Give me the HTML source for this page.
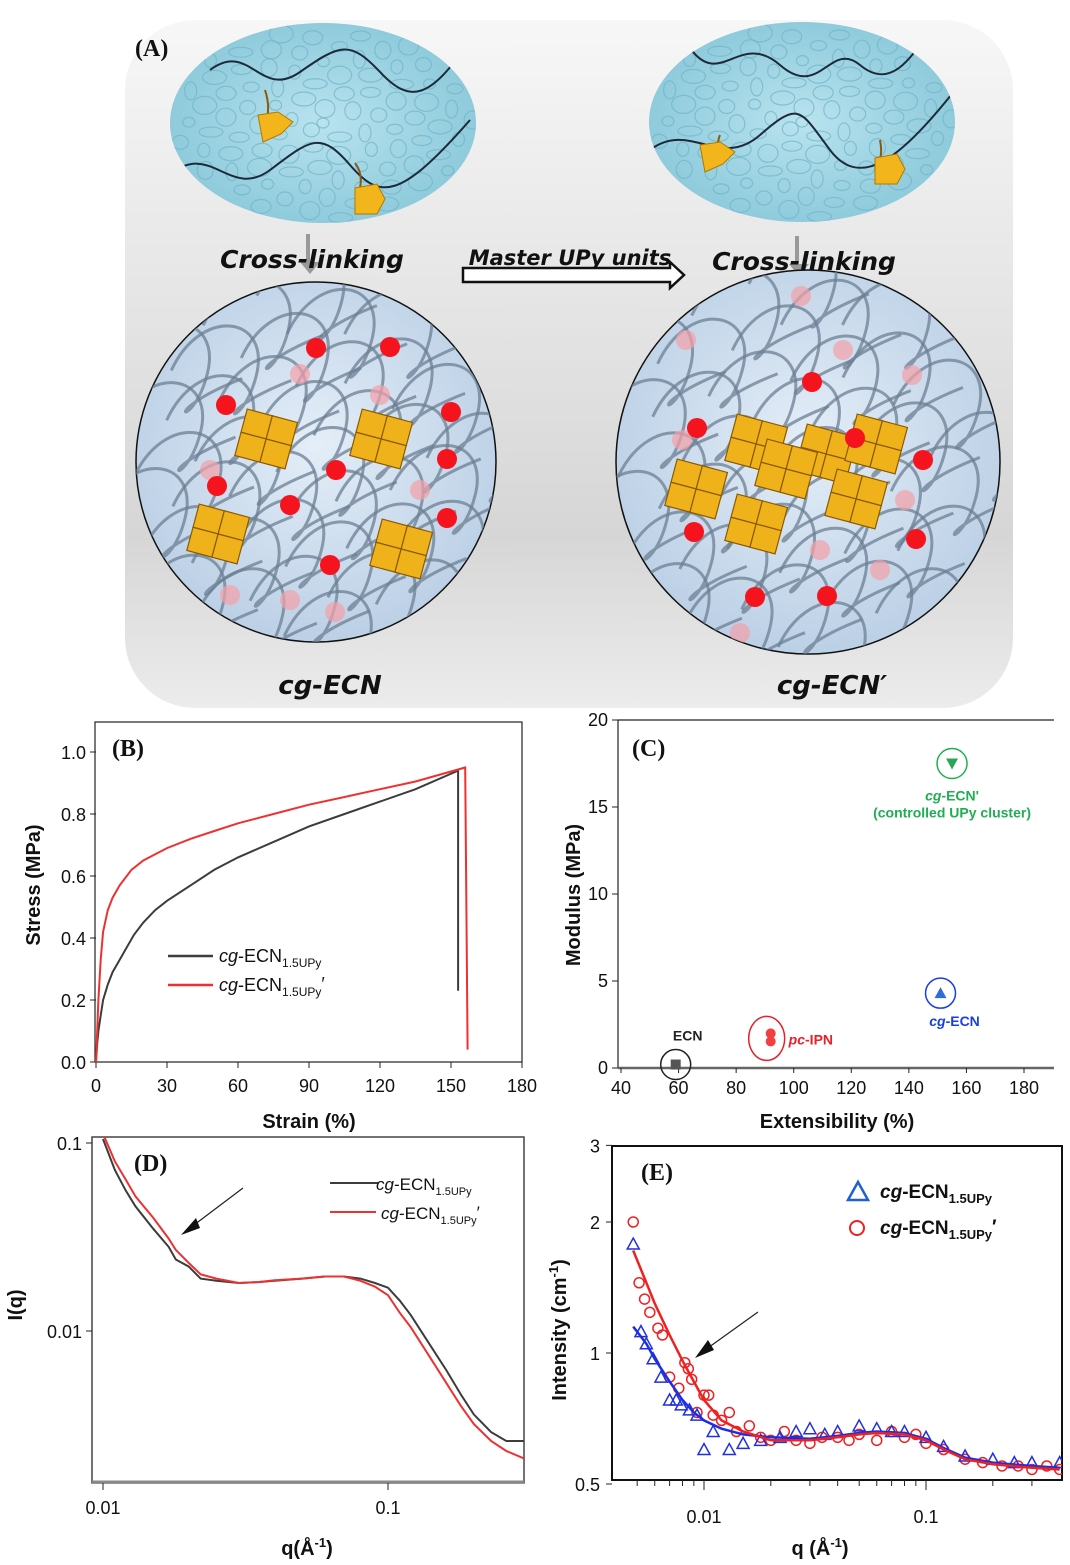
<!DOCTYPE html>
<html><head><meta charset="utf-8">
<style>
html,body{margin:0;padding:0;background:#fff;}
svg{display:block;font-family:"Liberation Sans",Arial,sans-serif;}
.tk{font-size:18px;fill:#111;}
.ttl{font-size:20px;font-weight:bold;fill:#111;}
.pl{font-family:"Liberation Serif",serif;font-weight:bold;font-size:24px;fill:#111;}
.cm{font-family:"DejaVu Sans","Liberation Sans",sans-serif;font-style:italic;font-weight:bold;fill:#111;}
</style></head>
<body>
<svg id="fig" width="1070" height="1565" viewBox="0 0 1070 1565" xmlns="http://www.w3.org/2000/svg">
<defs>
<linearGradient id="bgA" x1="0" y1="0" x2="0" y2="1">
<stop offset="0" stop-color="#f7f7f7"/><stop offset="0.75" stop-color="#d6d6d6"/><stop offset="1" stop-color="#ececec"/>
</linearGradient>
<radialGradient id="water" cx="0.5" cy="0.5" r="0.6">
<stop offset="0" stop-color="#b9e3ee"/><stop offset="1" stop-color="#86c6d8"/>
</radialGradient>
<radialGradient id="net" cx="0.5" cy="0.45" r="0.6">
<stop offset="0" stop-color="#e4eef8"/><stop offset="1" stop-color="#b8cde4"/>
</radialGradient>
<clipPath id="cl1"><circle cx="316" cy="462" r="180"/></clipPath>
<clipPath id="cl2"><circle cx="808" cy="462" r="192"/></clipPath>
<clipPath id="ce1"><ellipse cx="323" cy="123" rx="153" ry="100"/></clipPath>
<clipPath id="ce2"><ellipse cx="802" cy="122" rx="153" ry="100"/></clipPath>
<clipPath id="clD"><rect x="92" y="1137" width="432" height="346"/></clipPath>
<clipPath id="clE"><rect x="612" y="1146" width="450" height="334"/></clipPath>
</defs>

<g id="panelA">
<rect x="125" y="20" width="888" height="688" rx="70" fill="url(#bgA)"/>
<text x="135" y="56" class="pl">(A)</text>
<ellipse cx="323" cy="123" rx="153" ry="100" fill="url(#water)"/>
<ellipse cx="802" cy="122" rx="153" ry="100" fill="url(#water)"/>
<g id="bubbles"></g>
<path d="M210,70 C250,40 260,100 300,72 S350,40 380,72 S430,100 470,40" fill="none" stroke="#1c2a3a" stroke-width="2" clip-path="url(#ce1)"/>
<path d="M170,175 C210,140 230,200 270,170 S320,130 350,165 S400,200 470,120" fill="none" stroke="#1c2a3a" stroke-width="2" clip-path="url(#ce1)"/>
<path d="M690,48 C720,90 740,30 780,65 S830,40 860,65 S910,60 930,30" fill="none" stroke="#1c2a3a" stroke-width="2" clip-path="url(#ce2)"/>
<path d="M650,150 C690,120 720,170 760,135 S800,110 830,150 S900,160 955,90" fill="none" stroke="#1c2a3a" stroke-width="2" clip-path="url(#ce2)"/>
<path d="M265,90 q5,15 2,28 M355,163 q8,10 5,25 M720,135 q-5,12 3,22 M880,140 q3,15 -2,25" stroke="#8a5a10" stroke-width="2" fill="none"/>
<path d="M258,115 l20,-3 l15,10 l-12,12 l-18,8 z M355,188 l22,-4 l8,15 l-8,15 l-22,0 z M700,145 l20,-3 l15,10 l-12,12 l-18,8 z M875,158 l22,-4 l8,15 l-8,15 l-22,0 z" fill="#f2b51b" stroke="#b07a00" stroke-width="1"/>
<rect x="306" y="234" width="4" height="32" fill="#999"/><path d="M300,262 l10,12 l10,-12z" fill="#999"/>
<rect x="795" y="236" width="4" height="32" fill="#999"/><path d="M789,264 l10,12 l10,-12z" fill="#999"/>
<text x="312" y="268" text-anchor="middle" class="cm" font-size="25">Cross-linking</text>
<text x="804" y="270" text-anchor="middle" class="cm" font-size="25">Cross-linking</text>
<text x="570" y="265" text-anchor="middle" class="cm" font-size="21">Master UPy units</text>
<path d="M463,268 L670,268 L670,262 L684,275 L670,288 L670,282 L463,282 Z" fill="#fff" stroke="#111" stroke-width="2.5"/>
<circle cx="316" cy="462" r="180" fill="url(#net)" stroke="#111" stroke-width="1.5"/>
<circle cx="808" cy="462" r="192" fill="url(#net)" stroke="#111" stroke-width="1.5"/>
<g id="net1" clip-path="url(#cl1)"></g>
<g id="net2" clip-path="url(#cl2)"></g>
<text x="330" y="694" text-anchor="middle" class="cm" font-size="26">cg-ECN</text>
<text x="832" y="694" text-anchor="middle" class="cm" font-size="26">cg-ECN′</text>
</g>

<g id="panelB"></g>
<g id="panelC"></g>
<g id="panelD"></g>
<g id="panelE"></g>
</svg>
<script>
// ===== Panel B data =====
const bStrainBlack=[0,0.5,1,2,3,5,7,10,13,16,20,25,30,40,50,60,75,90,105,120,135,153];
const bStressBlack=[0,0.06,0.1,0.15,0.2,0.25,0.29,0.33,0.37,0.41,0.45,0.49,0.52,0.57,0.62,0.66,0.71,0.76,0.80,0.84,0.88,0.94];
const bBlackBreak=[153,0.23];
const bStrainRed=[0,0.5,1,2,3,5,7,10,15,20,25,30,40,50,60,75,90,105,120,135,156];
const bStressRed=[0,0.1,0.2,0.33,0.42,0.49,0.53,0.57,0.62,0.65,0.67,0.69,0.72,0.745,0.77,0.80,0.83,0.855,0.88,0.905,0.95];
const bRedBreak=[157,0.04];
const bXTicks=[0,30,60,90,120,150,180];
const bYTicks=[0.0,0.2,0.4,0.6,0.8,1.0];
// ===== Panel C data =====
const cNames=["ECN","pc-IPN","cg-ECN","cg-ECN'"];
const cExt=[59,92,151,155];
const cMod=[0.2,1.7,4.3,17.5];
const cXTicks=[40,60,80,100,120,140,160,180];
const cYTicks=[0,5,10,15,20];
// ===== Panel D data =====
const dQ=[0.01,0.011,0.012,0.013,0.015,0.017,0.018,0.02,0.022,0.025,0.03,0.035,0.04,0.05,0.06,0.07,0.08,0.09,0.1,0.11,0.12,0.14,0.16,0.18,0.2,0.23,0.26,0.3];
const dBlack=[0.105,0.072,0.056,0.046,0.035,0.028,0.024,0.022,0.019,0.0185,0.018,0.0182,0.0185,0.019,0.0195,0.0195,0.019,0.018,0.017,0.0145,0.0122,0.0085,0.0062,0.0046,0.0036,0.0029,0.0026,0.0026];
const dRed=[0.112,0.08,0.064,0.052,0.04,0.031,0.027,0.023,0.02,0.019,0.018,0.0182,0.0186,0.019,0.0195,0.0195,0.0185,0.0172,0.0155,0.0125,0.0105,0.0073,0.0053,0.004,0.0032,0.0026,0.0023,0.0021];
// ===== Panel E data =====
const eQFit=[0.0048,0.0055,0.006,0.007,0.008,0.009,0.01,0.012,0.015,0.02,0.03,0.04,0.05,0.06,0.08,0.1,0.12,0.15,0.2,0.3,0.4];
const eRedFit=[1.72,1.45,1.3,1.1,0.96,0.86,0.78,0.7,0.66,0.63,0.63,0.64,0.65,0.655,0.65,0.63,0.6,0.57,0.555,0.545,0.54];
const eBlueFit=[1.15,1.05,0.97,0.86,0.78,0.73,0.7,0.67,0.65,0.64,0.635,0.645,0.655,0.66,0.655,0.635,0.605,0.575,0.56,0.55,0.545];
const eQRed=[0.0048,0.0051,0.0054,0.0057,0.0062,0.0065,0.007,0.0077,0.0082,0.0085,0.0088,0.0093,0.01,0.0105,0.011,0.012,0.013,0.014,0.016,0.018,0.02,0.023,0.026,0.03,0.034,0.04,0.045,0.05,0.06,0.07,0.08,0.09,0.1,0.12,0.15,0.18,0.22,0.26,0.3,0.35,0.4];
const eRed=[2.0,1.45,1.33,1.24,1.14,1.1,0.88,0.83,0.95,0.92,0.87,0.73,0.8,0.8,0.72,0.7,0.73,0.66,0.68,0.64,0.63,0.66,0.63,0.62,0.64,0.64,0.63,0.65,0.63,0.66,0.64,0.65,0.62,0.6,0.57,0.56,0.55,0.55,0.54,0.55,0.54];
const eQBlue=[0.0048,0.0052,0.0055,0.0059,0.0064,0.007,0.0075,0.0079,0.0086,0.0093,0.01,0.011,0.013,0.015,0.018,0.022,0.026,0.03,0.035,0.04,0.05,0.06,0.07,0.08,0.1,0.12,0.15,0.2,0.25,0.3,0.4];
const eBlue=[1.78,1.12,1.05,0.97,0.88,0.78,0.78,0.76,0.74,0.72,0.6,0.66,0.6,0.62,0.63,0.64,0.66,0.67,0.65,0.66,0.68,0.67,0.66,0.66,0.64,0.61,0.58,0.57,0.56,0.56,0.56];

const NS="http://www.w3.org/2000/svg";
function mk(tag,attrs,parent){const e=document.createElementNS(NS,tag);for(const k in attrs)e.setAttribute(k,attrs[k]);parent.appendChild(e);return e;}
function txt(s,x,y,cls,anchor,parent){const t=mk('text',{x:x,y:y,class:cls,'text-anchor':anchor||'middle'},parent);t.textContent=s;return t;}
function lin(d0,d1,r0,r1){return v=>r0+(v-d0)/(d1-d0)*(r1-r0);}
function lg(d0,d1,r0,r1){return v=>r0+(Math.log10(v)-Math.log10(d0))/(Math.log10(d1)-Math.log10(d0))*(r1-r0);}
function pathD(xs,ys,sx,sy){return xs.map((v,i)=>(i?'L':'M')+sx(v).toFixed(1)+','+sy(ys[i]).toFixed(1)).join(' ');}

(function(){
  const bub=document.getElementById('bubbles');
  [[323,123,150,97,'ce1'],[802,122,150,97,'ce2']].forEach(([cx,cy,rx,ry,c])=>{
    const g=mk('g',{'clip-path':'url(#'+c+')'},bub);
    for(let i=0;i<90;i++){const a=i*2.39996,r=Math.sqrt(i/90);
      mk('ellipse',{cx:cx+Math.cos(a)*r*rx,cy:cy+Math.sin(a)*r*ry,rx:6+(i%4)*2,ry:5+(i%3)*2,fill:'none',stroke:'#6fb3c8','stroke-width':1.2,opacity:0.7},g);}
  });
  function netw(id,cx,cy,R,reds,yel,fade){
    const g=document.getElementById(id);
    for(let i=0;i<38;i++){const a=i*2.39996,r=R*Math.sqrt((i+0.5)/38);
      const x=cx+Math.cos(a)*r,y=cy+Math.sin(a)*r;
      mk('path',{d:`M${x-60},${y+10} C${x-30},${y-55} ${x+40},${y-45} ${x+25},${y+15} S${x-30},${y+55} ${x+60},${y+20}`,fill:'none',stroke:'#6c7f93','stroke-width':3,opacity:0.75},g);}
    fade.forEach(p=>mk('circle',{cx:p[0],cy:p[1],r:10,fill:'#f3a0a8',opacity:0.7},g));
    yel.forEach(p=>{for(let k=0;k<4;k++){mk('rect',{x:p[0]-30+(k%2)*26,y:p[1]-24+Math.floor(k/2)*24,width:26,height:24,fill:'#f0b21a',stroke:'#8a5a00','stroke-width':1.2,transform:`rotate(15 ${p[0]} ${p[1]})`},g);}});
    reds.forEach(p=>mk('circle',{cx:p[0],cy:p[1],r:10,fill:'#f5141e'},g));
  }
  netw('net1',316,462,180,[[316,348],[390,347],[226,405],[451,412],[447,459],[336,470],[217,486],[290,505],[447,518],[330,565]],
    [[270,440],[385,440],[222,535],[405,550]],[[300,374],[380,395],[210,470],[420,490],[230,595],[290,600],[335,612]]);
  netw('net2',808,462,192,[[812,382],[697,428],[855,438],[923,460],[694,532],[916,539],[755,597],[827,596]],
    [[700,490],[760,445],[760,525],[830,455],[880,445],[860,500],[790,470]],[[801,296],[686,340],[843,350],[912,375],[682,440],[905,500],[880,570],[740,633],[820,550]]);
})();

(function(){
  const g=document.getElementById('panelB');
  const X0=96,X1=522,Y0=1062,Y1=752;
  const sx=lin(0,180,X0,X1), sy=lin(0,1.0,Y0,Y1);
  mk('rect',{x:95,y:722,width:427,height:340,fill:'none',stroke:'#222','stroke-width':1.2,},g);
  bXTicks.forEach(v=>{mk('line',{x1:sx(v),y1:Y0,x2:sx(v),y2:Y0+6,stroke:'#222'},g);const t=txt(String(v),sx(v),1092,'tk','middle',g);
    
    });
  bYTicks.forEach(v=>{mk('line',{x1:X0-6,y1:sy(v),x2:X0,y2:sy(v),stroke:'#222'},g);const t=txt(v.toFixed(1),X0-10,sy(v)+7,'tk','end',g);
    
    });
  const t1=txt('Strain (%)',309,1128,'ttl','middle',g);
  
  
  const t2=txt('Stress (MPa)',0,0,'ttl','middle',g);t2.setAttribute('transform','translate(40,885) rotate(-90)');
  
  
  const pl=txt('(B)',112,756,'pl','start',g);
  
  
  const pb=mk('path',{d:pathD(bStrainBlack.concat([bBlackBreak[0]]),bStressBlack.concat([bBlackBreak[1]]),sx,sy),fill:'none',stroke:'#3c3c3c','stroke-width':2},g);
  
  
  const pr=mk('path',{d:pathD(bStrainRed.concat([bRedBreak[0]]),bStressRed.concat([bRedBreak[1]]),sx,sy),fill:'none',stroke:'#f03030','stroke-width':2},g);
  
  
  mk('line',{x1:168,y1:956,x2:213,y2:956,stroke:'#3c3c3c','stroke-width':2.5},g);
  mk('line',{x1:168,y1:985,x2:213,y2:985,stroke:'#f03030','stroke-width':2.5},g);
  const l1=mk('text',{x:219,y:962,'font-size':18,fill:'#111'},g);
  l1.innerHTML='<tspan font-style="italic">cg</tspan>-ECN<tspan font-size="12" dy="5">1.5UPy</tspan>';
  
  
  const l2=mk('text',{x:219,y:991,'font-size':18,fill:'#111'},g);
  l2.innerHTML='<tspan font-style="italic">cg</tspan>-ECN<tspan font-size="12" dy="5">1.5UPy</tspan><tspan dy="-6">′</tspan>';
  
  
})();

(function(){
  const g=document.getElementById('panelC');
  const X0=621,X1=1024,Y0=1068,Y1=720;
  const sx=lin(40,180,X0,X1), sy=lin(0,20,Y0,Y1);
  mk('line',{x1:618,y1:720,x2:1054,y2:720,stroke:'#222','stroke-width':1.2},g);
  mk('line',{x1:618,y1:720,x2:618,y2:1068,stroke:'#222','stroke-width':1.2},g);
  mk('line',{x1:618,y1:1068,x2:1054,y2:1068,stroke:'#666','stroke-width':2.5},g);
  cXTicks.forEach(v=>{mk('line',{x1:sx(v),y1:Y0,x2:sx(v),y2:Y0+5,stroke:'#222'},g);const t=txt(String(v),sx(v),1094,'tk','middle',g);t.setAttribute('font-size','16');
    
    });
  cYTicks.forEach(v=>{mk('line',{x1:612,y1:sy(v),x2:618,y2:sy(v),stroke:'#222'},g);const t=txt(String(v),608,sy(v)+6,'tk','end',g);t.setAttribute('font-size','16');
    
    });
  const t1=txt('Extensibility (%)',837,1128,'ttl','middle',g);
  
  
  const t2=txt('Modulus (MPa)',0,0,'ttl','middle',g);t2.setAttribute('transform','translate(580,895) rotate(-90)');
  
  
  const pl=txt('(C)',632,756,'pl','start',g);
  
  
  const cols=['#222','#e8202a','#1a3ee6','#1fae52'], fills=['#555','#f04040','#2d6fd0','#2aa55a'];
  cExt.forEach((v,i)=>{
    const x=sx(v),y=sy(cMod[i]);
    const grp=mk('g',{},g);
    
    
    if(i===1){mk('ellipse',{cx:x-4,cy:y,rx:18,ry:22,fill:'none',stroke:cols[i],'stroke-width':1.5},grp);
      mk('circle',{cx:x,cy:y-5,r:5,fill:fills[i]},grp);mk('circle',{cx:x,cy:y+3,r:5,fill:fills[i]},grp);}
    else{mk('circle',{cx:x,cy:y,r:15,fill:'none',stroke:cols[i],'stroke-width':1.5},grp);
      if(i===0)mk('rect',{x:x-5,y:y-5,width:10,height:10,fill:fills[i]},grp);
      if(i===2)mk('path',{d:`M${x-6},${y+5} L${x+6},${y+5} L${x},${y-6} Z`,fill:fills[i]},grp);
      if(i===3)mk('path',{d:`M${x-6},${y-5} L${x+6},${y-5} L${x},${y+6} Z`,fill:fills[i]},grp);}
  });
  function lab(html,x,y,col,anc,name){const t=mk('text',{x:x,y:y,'font-size':14,'font-weight':'bold',fill:col,'text-anchor':anc},g);t.innerHTML=html;
    
    }
  lab('ECN',sx(cExt[0])+12,sy(cMod[0])-24,'#222','middle','label-ecn');
  lab('<tspan font-style="italic">pc</tspan>-IPN',sx(cExt[1])+18,sy(cMod[1])+6,'#e8202a','start','label-pc-ipn');
  lab('<tspan font-style="italic">cg</tspan>-ECN',sx(cExt[2])+14,sy(cMod[2])+33,'#1a3ee6','middle','label-cg-ecn');
  lab('<tspan font-style="italic">cg</tspan>-ECN\'',sx(cExt[3]),sy(cMod[3])+37,'#1fae52','middle','label-cg-ecn-prime');
  lab('(controlled UPy cluster)',sx(cExt[3]),sy(cMod[3])+54,'#1fae52','middle','label-controlled-cluster');
})();

(function(){
  const g=document.getElementById('panelD');
  const sx=lg(0.01,0.1,103,388), sy=lg(0.01,0.1,1331,1143);
  mk('rect',{x:92,y:1137,width:432,height:346,fill:'none',stroke:'#444','stroke-width':1.5,},g);
  mk('line',{x1:92,y1:1482,x2:524,y2:1482,stroke:'#888','stroke-width':3},g);
  [0.01,0.1].forEach(v=>{mk('line',{x1:sx(v),y1:1483,x2:sx(v),y2:1490,stroke:'#222'},g);const t=txt(String(v),sx(v),1514,'tk','middle',g);
    
    });
  [0.01,0.1].forEach(v=>{mk('line',{x1:86,y1:sy(v),x2:92,y2:sy(v),stroke:'#222'},g);const t=txt(String(v),82,sy(v)+7,'tk','end',g);
    
    });
  const t1=mk('text',{x:307,y:1555,class:'ttl','text-anchor':'middle'},g);t1.innerHTML='q(Å<tspan font-size="13" dy="-8">-1</tspan><tspan dy="8">)</tspan>';
  
  
  const t2=txt('I(q)',0,0,'ttl','middle',g);t2.setAttribute('transform','translate(22,1305) rotate(-90)');
  
  
  const pl=txt('(D)',134,1171,'pl','start',g);
  
  
  const pb=mk('path',{d:pathD(dQ,dBlack,sx,sy),fill:'none',stroke:'#3c3c3c','stroke-width':2,'clip-path':'url(#clD)'},g);
  
  
  const pr=mk('path',{d:pathD(dQ,dRed,sx,sy),fill:'none',stroke:'#f03030','stroke-width':2,'clip-path':'url(#clD)'},g);
  
  
  mk('line',{x1:243,y1:1188,x2:190,y2:1228,stroke:'#222','stroke-width':1.2},g);
  mk('path',{d:'M181,1235 L196,1218 L200,1228 Z',fill:'#111'},g);
  mk('line',{x1:330,y1:1183,x2:378,y2:1183,stroke:'#3c3c3c','stroke-width':2},g);
  mk('line',{x1:330,y1:1212,x2:376,y2:1212,stroke:'#f03030','stroke-width':2},g);
  const l1=mk('text',{x:376,y:1190,'font-size':17,fill:'#111'},g);
  l1.innerHTML='<tspan font-style="italic">cg</tspan>-ECN<tspan font-size="11" dy="5">1.5UPy</tspan>';
  
  
  const l2=mk('text',{x:381,y:1219,'font-size':17,fill:'#111'},g);
  l2.innerHTML='<tspan font-style="italic">cg</tspan>-ECN<tspan font-size="11" dy="5">1.5UPy</tspan><tspan dy="-6">′</tspan>';
  
  
})();

(function(){
  const g=document.getElementById('panelE');
  const sx=lg(0.01,0.1,704,926), sy=lg(1,2,1353,1222);
  mk('rect',{x:612,y:1146,width:450,height:334,fill:'none',stroke:'#111','stroke-width':2,},g);
  [0.01,0.1].forEach(v=>{const t=txt(String(v),sx(v),1523,'tk','middle',g);
    
    });
  [0.005,0.006,0.007,0.008,0.009,0.01,0.02,0.03,0.04,0.05,0.06,0.07,0.08,0.09,0.1,0.2,0.3].forEach(v=>mk('line',{x1:sx(v),y1:1480,x2:sx(v),y2:(v===0.01||v===0.1)?1490:1486,stroke:'#222'},g));
  [0.5,1,2,3].forEach(v=>{mk('line',{x1:606,y1:sy(v),x2:612,y2:sy(v),stroke:'#222'},g);const t=txt(String(v),600,sy(v)+7,'tk','end',g);
    
    });
  const t1=mk('text',{x:820,y:1555,class:'ttl','text-anchor':'middle'},g);t1.innerHTML='q (Å<tspan font-size="13" dy="-8">-1</tspan><tspan dy="8">)</tspan>';
  
  
  const t2=mk('text',{class:'ttl','text-anchor':'middle',transform:'translate(566,1330) rotate(-90)'},g);t2.innerHTML='Intensity (cm<tspan font-size="13" dy="-8">-1</tspan><tspan dy="8">)</tspan>';
  
  
  const pl=txt('(E)',641,1180,'pl','start',g);
  
  
  const cg=mk('g',{'clip-path':'url(#clE)'},g);
  eQRed.forEach((q,i)=>{const c=mk('circle',{cx:sx(q),cy:sy(eRed[i]),r:5,fill:'none',stroke:'#f02020','stroke-width':1.5},cg);
    
    });
  eQBlue.forEach((q,i)=>{const x=sx(q),y=sy(eBlue[i]);const p=mk('path',{d:`M${x-6},${y+5} L${x+6},${y+5} L${x},${y-6} Z`,fill:'none',stroke:'#2030e0','stroke-width':1.5},cg);
    
    });
  const pb=mk('path',{d:pathD(eQFit,eBlueFit,sx,sy),fill:'none',stroke:'#1a2ee6','stroke-width':2.5},cg);
  
  
  const pr=mk('path',{d:pathD(eQFit,eRedFit,sx,sy),fill:'none',stroke:'#f02020','stroke-width':2.5},cg);
  
  
  mk('line',{x1:758,y1:1312,x2:705,y2:1350,stroke:'#222','stroke-width':1.2},g);
  mk('path',{d:'M695,1358 L708,1340 L714,1350 Z',fill:'#111'},g);
  mk('path',{d:'M848,1200 L868,1200 L858,1182 Z',fill:'none',stroke:'#2060d0','stroke-width':2.5},g);
  mk('circle',{cx:857,cy:1228,r:7,fill:'none',stroke:'#f02020','stroke-width':2},g);
  const l1=mk('text',{x:880,y:1198,'font-size':19,'font-weight':'bold',fill:'#111'},g);
  l1.innerHTML='<tspan font-style="italic">cg</tspan>-ECN<tspan font-size="13" dy="5">1.5UPy</tspan>';
  
  
  const l2=mk('text',{x:880,y:1234,'font-size':19,'font-weight':'bold',fill:'#111'},g);
  l2.innerHTML='<tspan font-style="italic">cg</tspan>-ECN<tspan font-size="13" dy="5">1.5UPy</tspan><tspan dy="-6">′</tspan>';
  
  
})();
</script>
</body></html>
